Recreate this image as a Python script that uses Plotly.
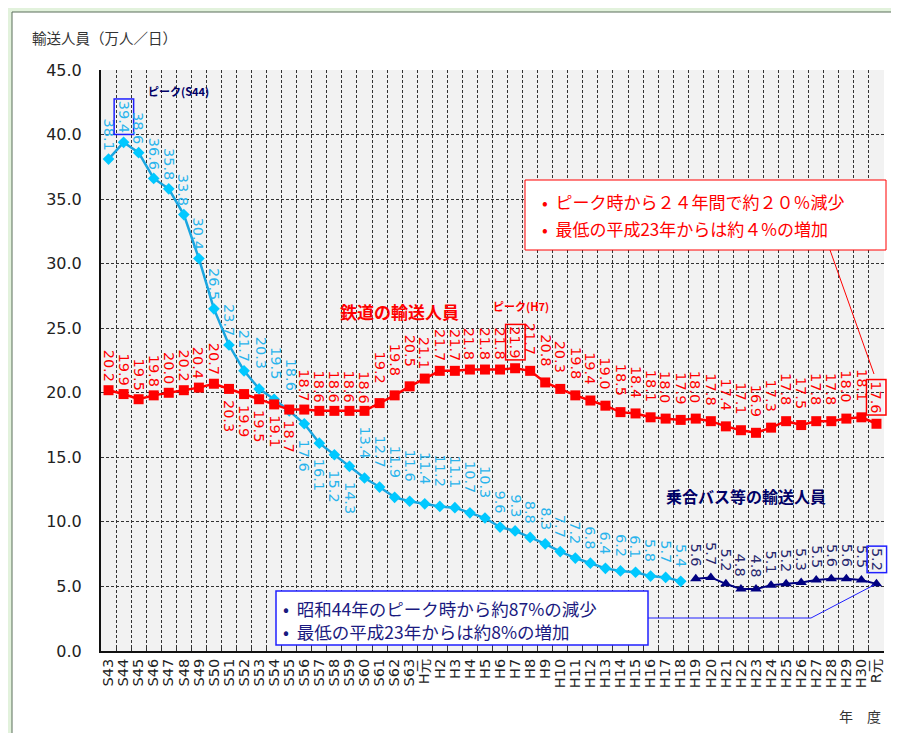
import plotly.graph_objects as go

# ---------------- data ----------------
years = (["S%d" % y for y in range(43, 64)] + ["H元"] +
         ["H%d" % y for y in range(2, 31)] + ["R元"])

rail = [20.2, 19.9, 19.5, 19.8, 20.0, 20.2, 20.4, 20.7, 20.3, 19.9,
        19.5, 19.1, 18.7, 18.7, 18.6, 18.6, 18.6, 18.6, 19.2, 19.8,
        20.5, 21.1, 21.7, 21.7, 21.8, 21.8, 21.8, 21.9, 21.7, 20.8,
        20.3, 19.8, 19.4, 19.0, 18.5, 18.4, 18.1, 18.0, 17.9, 18.0,
        17.8, 17.4, 17.1, 16.9, 17.3, 17.8, 17.5, 17.8, 17.8, 18.0,
        18.1, 17.6]

bus_years = years[:39]          # S43 .. H18
bus = [38.1, 39.4, 38.6, 36.6, 35.8, 33.8, 30.4, 26.5, 23.7, 21.7,
       20.3, 19.5, 18.6, 17.6, 16.1, 15.2, 14.3, 13.4, 12.7, 11.9,
       11.6, 11.4, 11.2, 11.1, 10.7, 10.3, 9.6, 9.3, 8.8, 8.3,
       7.7, 7.2, 6.8, 6.4, 6.2, 6.1, 5.8, 5.7, 5.4]

bus2_years = years[39:]         # H19 .. R元
bus2 = [5.6, 5.7, 5.2, 4.8, 4.8, 5.1, 5.2, 5.3, 5.5, 5.6, 5.6, 5.5, 5.2]

y_ticks = [0, 5, 10, 15, 20, 25, 30, 35, 40, 45]

# ---------------- styling ----------------
W, H = 899, 733
L, R, T, B = 93, 23, 62, 90
PW, PH = W - L - R, H - T - B
FONT = "Noto Sans CJK JP"
NUMFONT = "DejaVu Sans, Noto Sans CJK JP"

RED = "#ff0000"
CYAN_LINE = "#1aa6e0"
CYAN_MK = "#00c8ff"
CYAN_TXT = "#2ab4ec"
NAVY = "#000080"
NAVY_TXT = "#2a2a70"
BLUE = "#2020ff"


def px(x):
    return (x - L) / PW


def py(y):
    return (H - B - y) / PH


fig = go.Figure()

fig.add_trace(go.Scatter(x=bus_years, y=bus, mode="lines+markers",
                         line=dict(color=CYAN_LINE, width=2.5),
                         marker=dict(symbol="diamond", size=9, color=CYAN_MK),
                         showlegend=False, hoverinfo="skip"))
fig.add_trace(go.Scatter(x=years, y=rail, mode="lines+markers",
                         line=dict(color=RED, width=2.5),
                         marker=dict(symbol="square", size=10, color=RED),
                         showlegend=False, hoverinfo="skip"))
fig.add_trace(go.Scatter(x=bus2_years, y=bus2, mode="lines+markers",
                         line=dict(color=NAVY, width=2),
                         marker=dict(symbol="triangle-up", size=10, color=NAVY),
                         showlegend=False, hoverinfo="skip"))

ann = []


def label(xc, v, color, where, gap, box=None, xshift=0):
    d = dict(x=xc, y=v, xref="x", yref="y", text="%.1f" % v,
             textangle=90, showarrow=False, xanchor="center",
             font=dict(family=NUMFONT, size=14.5, color=color), xshift=xshift)
    if where == "above":
        d.update(yanchor="bottom", yshift=gap)
    else:
        d.update(yanchor="top", yshift=-gap)
    if box:
        d.update(bordercolor=box, borderwidth=1.5, borderpad=1)
    ann.append(d)


# bus labels
for i, (xc, v) in enumerate(zip(bus_years, bus)):
    if i <= 9:
        label(xc, v, CYAN_TXT, "above", 7, box=BLUE if i == 1 else None)
    elif i <= 12:
        label(xc, v, CYAN_TXT, "above", 18, xshift=2)
    elif i <= 16:
        label(xc, v, CYAN_TXT, "below", 14)
    elif i <= 25:
        label(xc, v, CYAN_TXT, "above", 18)
    else:
        label(xc, v, CYAN_TXT, "above", 12)

# rail labels
for i, (xc, v) in enumerate(zip(years, rail)):
    box = RED if i in (27, 51) else None
    if i <= 7:
        label(xc, v, RED, "above", 7)
    elif i <= 12:
        label(xc, v, RED, "below", 9)
    elif i <= 17:
        label(xc, v, RED, "above", 6)
    elif i <= 20:
        label(xc, v, RED, "above", 18)
    elif i <= 27:
        label(xc, v, RED, "above", 8, box=box)
    else:
        label(xc, v, RED, "above", 8 if i == 51 else 14, box=box)

# navy labels
for i, (xc, v) in enumerate(zip(bus2_years, bus2)):
    label(xc, v, NAVY_TXT, "above", 10, box=BLUE if i == len(bus2) - 1 else None)


def ptext(x, y, text, size, color, bold=False, xanchor="center"):
    ann.append(dict(x=px(x), y=py(y), xref="paper", yref="paper",
                    text="<b>%s</b>" % text if bold else text,
                    showarrow=False, xanchor=xanchor, yanchor="middle",
                    font=dict(family=FONT, size=size, color=color)))


ptext(170, 83, "ピーク(S44)", 11, "#000066", bold=True)
ptext(513, 298, "ピーク(H7)", 11, RED, bold=True)
ptext(391, 303, "鉄道の輸送人員", 17, RED, bold=True)
ptext(738, 488, "乗合バス等の輸送人員", 16, "#000066", bold=True)

ptext(532, 193, "•  ピーク時から２４年間で約２０％減少", 17, RED, xanchor="left")
ptext(532, 221, "•  最低の平成23年からは約４%の増加", 17, RED, xanchor="left")
ptext(273, 600, "•  昭和44年のピーク時から約87%の減少", 17.5, "#1a1a80", xanchor="left")
ptext(273, 623, "•  最低の平成23年からは約8%の増加", 17.5, "#1a1a80", xanchor="left")

ptext(22, 30, "輸送人員（万人／日）", 14.5, "#333333", xanchor="left")
ptext(852, 708, "年　度", 14, "#333333")

shapes = [
    # figure frame
    dict(type="rect", xref="paper", yref="paper", x0=px(0), x1=px(W),
         y0=py(H), y1=py(0), line=dict(color="#e2f2dc", width=8)),
    dict(type="rect", xref="paper", yref="paper", x0=px(4), x1=px(W - 4),
         y0=py(H - 4), y1=py(4), line=dict(color="#5a6e5a", width=1)),
    # note boxes
    dict(type="rect", xref="paper", yref="paper", x0=px(517), x1=px(878),
         y0=py(242), y1=py(172), line=dict(color=RED, width=1),
         fillcolor="white", layer="above"),
    dict(type="rect", xref="paper", yref="paper", x0=px(268), x1=px(640),
         y0=py(637), y1=py(583), line=dict(color=BLUE, width=1.5),
         fillcolor="white", layer="above"),
    # leader lines
    dict(type="line", xref="paper", yref="paper", x0=px(822), y0=py(242),
         x1=px(866), y1=py(366), line=dict(color=RED, width=1)),
    dict(type="line", xref="paper", yref="paper", x0=px(640), y0=py(610),
         x1=px(803), y1=py(610), line=dict(color=BLUE, width=1)),
    dict(type="line", xref="paper", yref="paper", x0=px(803), y0=py(610),
         x1=px(866), y1=py(577), line=dict(color=BLUE, width=1)),
]

fig.update_layout(
    width=W, height=H,
    margin=dict(l=L, r=R, t=T, b=B, autoexpand=False),
    paper_bgcolor="white", plot_bgcolor="#f2f2f2",
    font=dict(family=FONT, color="#222222"),
    annotations=ann, shapes=shapes,
    xaxis=dict(type="category", categoryorder="array", categoryarray=years,
               tickmode="array", tickvals=years, ticktext=years,
               range=[-0.5, len(years) - 0.5], tickson="boundaries",
               tickangle=-90,
               tickfont=dict(family=NUMFONT, size=14.5, color="#222222"),
               showgrid=True, gridcolor="#333333", gridwidth=1,
               griddash="3px,2px", ticks="inside", ticklen=5,
               tickcolor="#333333", showline=True, linecolor="#111111",
               linewidth=2, zeroline=False, fixedrange=True),
    yaxis=dict(range=[0, 45], tickvals=y_ticks, tickformat=".1f",
               tickfont=dict(family=NUMFONT, size=16, color="#222222"),
               showgrid=True, gridcolor="#333333", gridwidth=1,
               griddash="3px,2px", showline=True, linecolor="#111111",
               linewidth=2, zeroline=False, ticks="", ticklabelstandoff=14,
               fixedrange=True),
)

fig.write_html("out.html")
